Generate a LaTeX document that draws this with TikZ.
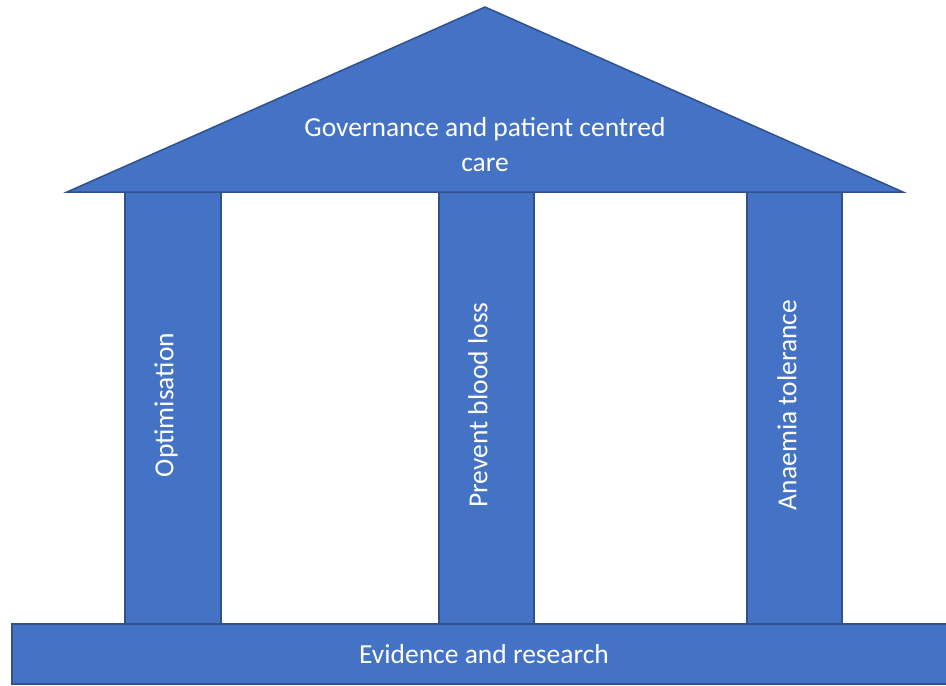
\documentclass[tikz,border=0pt]{standalone}
\usepackage{fontspec}
\setmainfont{Carlito}
\definecolor{pfill}{HTML}{4472C4}
\definecolor{pline}{HTML}{2F528F}
\tikzset{
  part/.style={fill=pfill, draw=pline, line width=1.5pt, line join=miter},
  lbl/.style={text=white, font=\fontsize{27.5}{35}\selectfont, align=center, inner sep=0pt}
}
\begin{document}
\begin{tikzpicture}[x=1pt,y=-1pt]
\useasboundingbox (0,0) rectangle (946,686);
\clip (0,0) rectangle (946,686);
% pillars
\draw[part] (125,192) rectangle (221,624);
\draw[part] (439,192) rectangle (534,624);
\draw[part] (747,192) rectangle (842,624);
% roof
\draw[part] (485,7) -- (903,192) -- (67,192) -- cycle;
% base
\draw[part] (12,624) rectangle (960,684);
\coordinate (roofc) at (485,145);
\node[lbl] (roof) at (roofc) {Governance and patient centred\\care};
\node[lbl, rotate=90] (p1) at (166,405) {Optimisation};
\node[lbl, rotate=90] (p2) at (478,405) {Prevent blood loss};
\node[lbl, rotate=90] (p3) at (787,405) {Anaemia tolerance};
\node[lbl] (base) at (484,654) {Evidence and research};
\end{tikzpicture}
\end{document}
